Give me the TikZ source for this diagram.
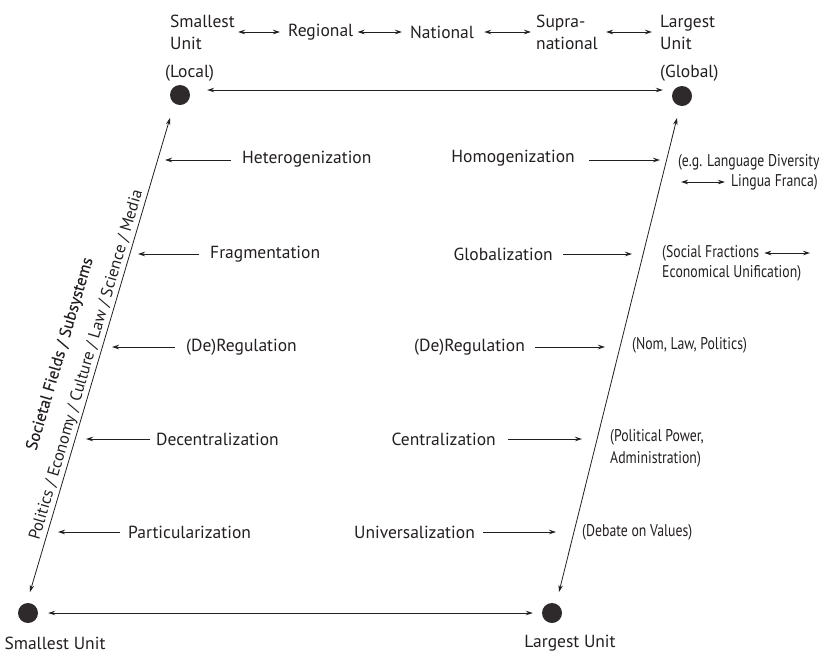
\documentclass[tikz,border=0pt]{standalone}
\usepackage{fontspec}
\setmainfont{PT Sans}
\newfontfamily\condfont[FakeStretch=0.81]{PT Sans}
\newfontfamily\semibfont[FakeBold=0.3]{PT Sans}
\usetikzlibrary{arrows.meta}
\definecolor{ink}{HTML}{231F20}
\begin{document}
\begin{tikzpicture}[x=1pt,y=-1pt, font=\fontsize{17.5}{22}\selectfont, text=ink,
 arr/.style={draw=ink, line width=0.8pt, -{Stealth[length=7pt,width=4.5pt]}},
 darr/.style={draw=ink, line width=0.8pt, {Stealth[length=7pt,width=4.5pt]}-{Stealth[length=7pt,width=4.5pt]}},
 dot/.style={circle, fill=ink!95, minimum size=20pt, inner sep=0pt},
 lbl/.style={inner sep=0pt},
 rot/.style={inner sep=0pt, rotate=73.5, font=\fontsize{16.5}{20}\selectfont},
 note/.style={inner sep=0pt, font=\condfont\fontsize{17}{22}\selectfont, align=left},
]
\useasboundingbox (0,0) rectangle (826,657);
% top row
\node[lbl, align=left, anchor=west] (sm) at (170,32) {Smallest\\Unit};
\node[lbl, anchor=west] (reg) at (288,32) {Regional};
\node[lbl, anchor=west] (nat) at (410,32) {National};
\node[lbl, align=left, anchor=west] (sup) at (536,32) {Supra-\\national};
\node[lbl, align=left, anchor=west] (lg) at (660,32) {Largest\\Unit};
\draw[darr] ([xshift=3pt]sm.east) -- ([xshift=-8pt]reg.west);
\draw[darr] ([xshift=4pt]reg.east) -- ([xshift=-8pt]nat.west);
\draw[darr] ([xshift=10pt]nat.east) -- ([xshift=-5pt]sup.west);
\draw[darr] ([xshift=8pt]sup.east) -- ([xshift=-8pt]lg.west);
\node[lbl, anchor=west] (loc) at (165,73) {(Local)};
\node[lbl, anchor=west] (glob) at (660,73) {(Global)};
% dots
\node[dot] (tl) at (180,95) {};
\node[dot] (tr) at (682,96) {};
\node[dot] (bl) at (28,613) {};
\node[dot] (br) at (552,613) {};
\draw[darr] ([xshift=17pt,yshift=5pt]tl.east) -- ([xshift=-9pt,yshift=6pt]tr.west);
\draw[darr] ([xshift=10pt]bl.east) -- ([xshift=-9pt]br.west);
\node[lbl] (bls) at (55,643) {Smallest Unit};
\node[lbl] (brl) at (570,643) {Largest Unit};
% diagonals
\coordinate (LT) at (170,118);
\coordinate (LB) at (30,592);
\coordinate (RT) at (677,118);
\coordinate (RB) at (559,592);
\draw[darr] (LB) -- (LT);
\draw[darr] (RB) -- (RT);
% rotated labels
\node[rot] (fields) at (86.8,365) {Politics / Economy / Culture / Law / Science / Media};
\node[rot, font=\semibfont\fontsize{16.5}{20}\selectfont] (soc) at (60.5,354) {Societal Fields / Subsystems};
% left processes
\coordinate (t1) at (165,160);
\coordinate (t2) at (138,254);
\coordinate (t3) at (112,347);
\coordinate (t4) at (86,439);
\coordinate (t5) at (58,532);
\node[lbl, anchor=west] (het) at (242,159) {Heterogenization};
\node[lbl, anchor=west] (frag) at (210,254) {Fragmentation};
\node[lbl, anchor=west] (dereg1) at (186,347) {(De)Regulation};
\node[lbl, anchor=west] (decen) at (156,439) {Decentralization};
\node[lbl, anchor=west] (part) at (128,532) {Particularization};
\draw[arr, shorten <=11pt] (het.west |- t1) -- (t1);
\draw[arr, shorten <=11pt] (frag.west |- t2) -- (t2);
\draw[arr, shorten <=11pt] (dereg1.west |- t3) -- (t3);
\draw[arr, shorten <=6pt] (decen.west |- t4) -- (t4);
\draw[arr, shorten <=8pt] (part.west |- t5) -- (t5);
% right processes
\coordinate (u1) at (660,160);
\coordinate (u2) at (632,254);
\coordinate (u3) at (605,347);
\coordinate (u4) at (582,439);
\coordinate (u5) at (556,532);
\node[lbl, anchor=east] (hom) at (575,158) {Homogenization};
\node[lbl, anchor=east] (glo) at (553,254) {Globalization};
\node[lbl, anchor=east] (dereg2) at (525,347) {(De)Regulation};
\node[lbl, anchor=east] (cen) at (496,439) {Centralization};
\node[lbl, anchor=east] (uni) at (475,532) {Universalization};
\draw[arr, shorten <=14pt] (hom.east |- u1) -- (u1);
\draw[arr, shorten <=10pt] (glo.east |- u2) -- (u2);
\draw[arr, shorten <=10pt] (dereg2.east |- u3) -- (u3);
\draw[arr, shorten <=12pt] (cen.east |- u4) -- (u4);
\draw[arr, shorten <=8pt] (uni.east |- u5) -- (u5);
% notes
\node[note, anchor=west] (eg) at (678,162) {(e.g. Language Diversity};
\node[note, anchor=east] (lf) at (818,182) {Lingua Franca)};
\coordinate (lfa) at (681,182);
\draw[darr] (lfa) -- ([xshift=-6pt]lf.west);
\node[note, anchor=west] (sf) at (662,253) {(Social Fractions};
\coordinate (sfa) at (810,253);
\draw[darr] ([xshift=5pt]sf.east) -- (sfa);
\node[note, anchor=west] (eu) at (662,273) {Economical Unification)};
\node[note, anchor=west] (nom) at (632,345) {(Nom, Law, Politics)};
\node[note, anchor=west] (pol) at (610,448) {(Political Power,\\Administration)};
\node[note, anchor=west] (deb) at (582,532) {(Debate on Values)};
\end{tikzpicture}
\end{document}
